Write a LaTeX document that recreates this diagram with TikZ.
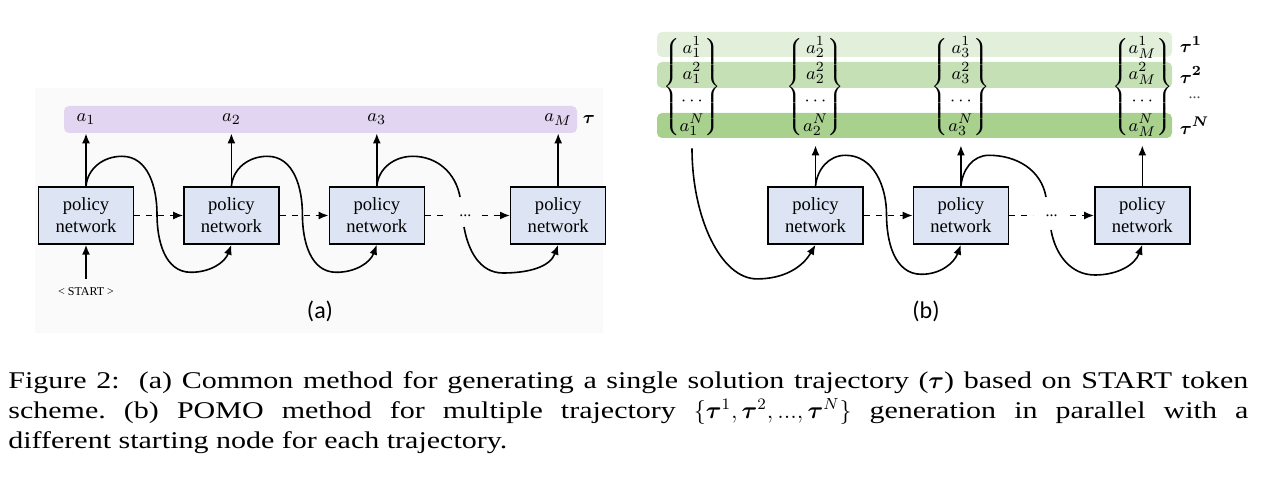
\documentclass[tikz,border=0pt]{standalone}
\usepackage{amsmath}
\usepackage{fontspec}
\setmainfont{Liberation Serif}
\newfontfamily\panelfont{Carlito}
\newfontfamily\captionfont[FakeStretch=1.25]{Liberation Serif}
\usetikzlibrary{arrows.meta, positioning}
\definecolor{my_purple}{RGB}{226, 213, 241}
\definecolor{my_boxblue}{RGB}{221, 228, 243}
\definecolor{my_green1}{RGB}{226, 239, 218}
\definecolor{my_green2}{RGB}{197, 224, 180}
\definecolor{my_green3}{RGB}{169, 209, 142}
\definecolor{my_bg}{RGB}{250, 250, 250}
\newcommand{\actcolumn}[1]{\renewcommand{\arraystretch}{1.3}$\left\{\begin{matrix}a_{#1}^{1}\\a_{#1}^{2}\\\cdots\\a_{#1}^{N}\end{matrix}\right\}$}
\tikzset {
  policy/.style = {draw, line width=0.7pt, fill=my_boxblue, align=center, minimum width=47.5pt, minimum height=28.5pt, inner sep=1pt, font=\fontsize{9.3}{11}\selectfont},
  bar/.style = {rectangle, rounded corners=2.5pt, inner sep=0pt, minimum width=257.5pt},
  act/.style = {inner sep=0pt, font=\fontsize{9.5}{10}\selectfont},
  dotsnode/.style = {inner sep=0pt, font=\fontsize{8}{9}\selectfont},
  line/.style = {->, thick, color=black, >={Latex[length=5pt, width=4pt]}},
  dashedline/.style = {thick, dashed, color=black, >={Latex[length=5pt, width=4pt]}},
  panel/.style = {font=\panelfont\fontsize{12}{14}\selectfont}
}

\begin{document}
\begin{tikzpicture}[x=0.5pt, y=0.5pt]
    \useasboundingbox (0,0) rectangle (1268,-480);

    % (a) one trajectory from the START token
    \fill[my_bg] (35,-88) rectangle (603,-333);
    \node[bar, fill=my_purple, minimum width=256.5pt, minimum height=13.5pt] (taubar) at (320.5,-119.5) {};

    \node[policy] (p1) at (86,-215.5) {policy\\network};
    \node[policy, right=24.5pt of p1] (p2) {policy\\network};
    \node[policy, right=24.5pt of p2] (p3) {policy\\network};
    \node[policy, right=42.5pt of p3] (p4) {policy\\network};
    \node[dotsnode, right=17pt of p3] (dotsa) {...};

    \node[act] (a1) at (p1 |- taubar) {$a_1$};
    \node[act] (a2) at (p2 |- taubar) {$a_2$};
    \node[act] (a3) at (p3 |- taubar) {$a_3$};
    \node[act] (aM) at (p4 |- taubar) {$a_M$};
    \node[act, right=2.5pt of taubar] (tau) {$\boldsymbol{\tau}$};
    \node[inner sep=1pt, font=\fontsize{6}{7}\selectfont, below=20pt of p1] (start) {< START >};

    \coordinate (gapa1) at (460,-197);
    \coordinate (gapa2) at (464,-227);

    \draw[line, shorten <=3pt] (start) -- (p1.south);
    \draw[line] (p1.north) -- (a1 |- taubar.south);
    \draw[line] (p2.north) -- (a2 |- taubar.south);
    \draw[line] (p3.north) -- (a3 |- taubar.south);
    \draw[line] (p4.north) -- (aM |- taubar.south);
    \draw[dashedline, ->] (p1.east) -- (p2.west);
    \draw[dashedline, ->] (p2.east) -- (p3.west);
    \draw[dashedline, shorten >=6pt] (p3.east) -- (dotsa.west);
    \draw[dashedline, ->, shorten <=5pt] (dotsa.east) -- (p4.west);

    \draw[line] (p1.north) to[out=85, in=180] ++(36,30) to[out=0, in=90] ++(35,-58) to[out=-90, in=180] ++(34,-58) to[out=0, in=-110] (p2.south);
    \draw[line] (p2.north) to[out=85, in=180] ++(36,30) to[out=0, in=90] ++(35,-58) to[out=-90, in=180] ++(34,-58) to[out=0, in=-110] (p3.south);
    \draw[thick] (p3.north) to[out=85, in=180] ++(36,30) to[out=0, in=100] (gapa1);
    \draw[line] (gapa2) to[out=-80, in=180] ++(39,-46) to[out=0, in=-110] (p4.south);

    \node[panel] (labela) at (320,-311) {(a)};

    % (b) POMO, N trajectories in parallel
    \node[bar, fill=my_green1, minimum height=12.5pt] (bar1) at (914.5,-44.5) {};
    \node[bar, fill=my_green2, minimum height=13pt] (bar2) at (914.5,-75) {};
    \node[bar, fill=my_green3, minimum height=12.5pt] (barN) at (914.5,-125.5) {};

    \node[act, right=3.5pt of bar1] (tau1) {$\boldsymbol{\tau^1}$};
    \node[act, right=3.5pt of bar2] (tau2) {$\boldsymbol{\tau^2}$};
    \node[act, right=3.5pt of barN] (tauN) {$\boldsymbol{\tau^N}$};
    \node[dotsnode, text=black!70] (taudots) at (tauN |- 0,-98) {...};

    \node[policy] (b1) at (815.5,-215.5) {policy\\network};
    \node[policy, right=24.5pt of b1] (b2) {policy\\network};
    \node[policy, right=42.5pt of b2] (b3) {policy\\network};
    \node[dotsnode, right=18pt of b2] (dotsb) {...};

    \node[act, inner sep=0pt] (c1) at (692,-87) {\actcolumn{1}};
    \node[act, inner sep=0pt] (c2) at (b1 |- c1) {\actcolumn{2}};
    \node[act, inner sep=0pt] (c3) at (b2 |- c1) {\actcolumn{3}};
    \node[act, inner sep=0pt] (cM) at (b3 |- c1) {\actcolumn{M}};

    \coordinate (gapb1) at (1046,-197);
    \coordinate (gapb2) at (1051,-230);

    \draw[line, shorten >=3.5pt] (b1.north) -- (b1.north |- barN.south);
    \draw[line, shorten >=3.5pt] (b2.north) -- (b2.north |- barN.south);
    \draw[line, shorten >=3.5pt] (b3.north) -- (b3.north |- barN.south);
    \draw[dashedline, ->] (b1.east) -- (b2.west);
    \draw[dashedline, shorten >=6pt] (b2.east) -- (dotsb.west);
    \draw[dashedline, ->, shorten <=6pt] (dotsb.east) -- (b3.west);

    \draw[line, shorten <=4.5pt] (c1.south) to[out=-90, in=180, out looseness=1.3, in looseness=0.6] ++(65,-139.5) to[out=0, in=-120] (b1.south);
    \draw[line] (b1.north) to[out=85, in=180] ++(30,31) to[out=0, in=90] ++(41,-59) to[out=-90, in=180] ++(35,-60) to[out=0, in=-110] (b2.south);
    \draw[thick] (b2.north) to[out=85, in=180] ++(28,31) to[out=0, in=100] (gapb1);
    \draw[line] (gapb2) to[out=-80, in=180] ++(44,-45) to[out=0, in=-110] (b3.south);

    \node[panel] (labelb) at (926,-311) {(b)};

    % caption
    \node[anchor=north west, inner sep=0pt, align=left, font=\captionfont\fontsize{12}{15}\selectfont\frenchspacing] (caption) at (8,-371) {\makebox[620pt][s]{Figure 2:~ (a) Common method for generating a single solution trajectory ($\boldsymbol{\tau}$) based on START token}\\
      \makebox[620pt][s]{scheme. (b) POMO method for multiple trajectory $\{\boldsymbol{\tau}^1, \boldsymbol{\tau}^2, ..., \boldsymbol{\tau}^N\}$ generation in parallel with a}\\
      different starting node for each trajectory.};
\end{tikzpicture}
\end{document}
